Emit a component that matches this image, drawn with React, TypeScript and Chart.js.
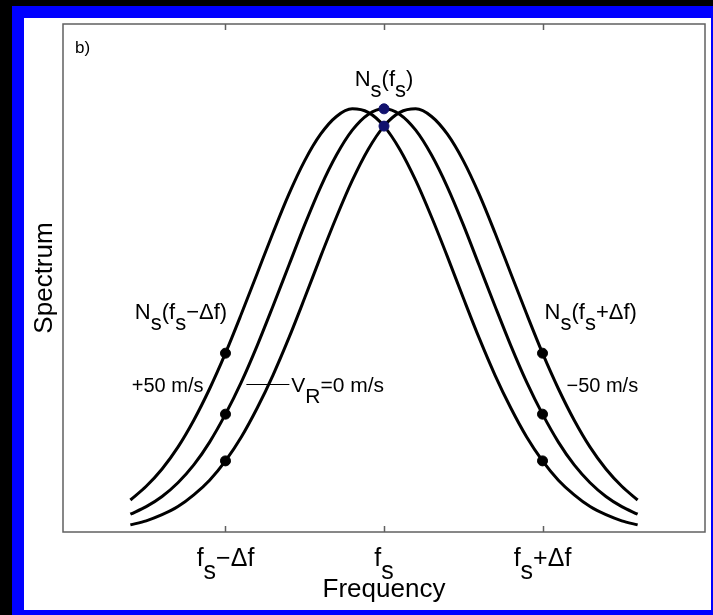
import React, { useEffect, useRef } from "react";
import { Chart, registerables } from "chart.js";

Chart.register(...registerables);

// Frequency axis: f_s = 0, one unit = Δf
const freqGrid = [
  -1.6, -1.5, -1.4, -1.3, -1.2, -1.1, -1.0, -0.9, -0.8, -0.7, -0.6, -0.5, -0.4, -0.3, -0.2, -0.1,
  0, 0.1, 0.2, 0.3, 0.4, 0.5, 0.6, 0.7, 0.8, 0.9, 1.0, 1.1, 1.2, 1.3, 1.4, 1.5, 1.6,
];

// +50 m/s spectrum (shifted towards lower frequency)
const spectrumPlus50 = [
  0.063, 0.09, 0.124, 0.167, 0.22, 0.282, 0.352, 0.429, 0.509, 0.589, 0.665, 0.731, 0.783, 0.818, 0.833, 0.826,
  0.799, 0.753, 0.692, 0.62, 0.542, 0.461, 0.382, 0.309, 0.244, 0.187, 0.14, 0.102, 0.073, 0.05, 0.034, 0.022, 0.014,
];

// V_R = 0 m/s spectrum
const spectrumZero = [
  0.035, 0.05, 0.07, 0.097, 0.132, 0.177, 0.232, 0.295, 0.367, 0.445, 0.525, 0.605, 0.679, 0.742, 0.791, 0.822,
  0.833, 0.822, 0.791, 0.742, 0.679, 0.605, 0.525, 0.445, 0.367, 0.295, 0.232, 0.177, 0.132, 0.097, 0.07, 0.05, 0.035,
];

// -50 m/s spectrum (shifted towards higher frequency)
const spectrumMinus50 = [
  0.014, 0.022, 0.034, 0.05, 0.073, 0.102, 0.14, 0.187, 0.244, 0.309, 0.382, 0.461, 0.542, 0.62, 0.692, 0.753,
  0.799, 0.826, 0.833, 0.818, 0.783, 0.731, 0.665, 0.589, 0.509, 0.429, 0.352, 0.282, 0.22, 0.167, 0.124, 0.09, 0.063,
];

// Black sample markers at f_s ± Δf
const markerFreqs = [-1, -1, -1, 1, 1, 1];
const markerValues = [0.352, 0.232, 0.14, 0.352, 0.232, 0.14];

// Navy markers at f_s
const peakFreqs = [0, 0];
const peakValues = [0.833, 0.799];

const tickValues = [-1, 0, 1];
const tickLabels = ["f_s−Δf", "f_s", "f_s+Δf"];

const FONT = '"Liberation Sans", Arial, Helvetica, sans-serif';

function drawRich(
  ctx: CanvasRenderingContext2D,
  text: string,
  x: number,
  y: number,
  size: number,
  align: "left" | "center",
  subDy: number
) {
  const segs: { t: string; sub: boolean }[] = [];
  let buf = "";
  for (let i = 0; i < text.length; i++) {
    if (text[i] === "_" && i + 1 < text.length) {
      if (buf) segs.push({ t: buf, sub: false });
      buf = "";
      segs.push({ t: text[i + 1], sub: true });
      i++;
    } else buf += text[i];
  }
  if (buf) segs.push({ t: buf, sub: false });
  ctx.font = `${size}px ${FONT}`;
  const w = segs.reduce((a, s) => a + ctx.measureText(s.t).width, 0);
  let cx = align === "center" ? x - w / 2 : x;
  ctx.textAlign = "left";
  ctx.textBaseline = "alphabetic";
  for (const s of segs) {
    ctx.fillText(s.t, cx, y + (s.sub ? subDy : 0));
    cx += ctx.measureText(s.t).width;
  }
}

const annotations = [
  { text: "N_s(f_s)", x: 0, y: 0.878, size: 22, align: "center" as const },
  { text: "N_s(f_s−Δf)", x: -1.572, y: 0.42, size: 22, align: "left" as const },
  { text: "N_s(f_s+Δf)", x: 1.013, y: 0.42, size: 22, align: "left" as const },
  { text: "+50 m/s", x: -1.591, y: 0.275, size: 20, align: "left" as const },
  { text: "V_R=0 m/s", x: -0.585, y: 0.275, size: 21, align: "left" as const },
  { text: "−50 m/s", x: 1.151, y: 0.275, size: 20, align: "left" as const },
];
const leaderLine = { x1: -0.868, x2: -0.597, y: 0.291 };

const textPlugin = {
  id: "textPlugin",
  afterDraw(chart: any) {
    const ctx: CanvasRenderingContext2D = chart.ctx;
    const { left, right, top, bottom } = chart.chartArea;
    const xs = chart.scales.x;
    const ys = chart.scales.y;
    ctx.save();
    // axes box
    ctx.strokeStyle = "#606060";
    ctx.lineWidth = 1.5;
    ctx.strokeRect(left, top, right - left, bottom - top);
    // ticks top and bottom
    ctx.beginPath();
    for (const v of tickValues) {
      const px = Math.round(xs.getPixelForValue(v)) + 0.5;
      ctx.moveTo(px, top);
      ctx.lineTo(px, top + 6);
      ctx.moveTo(px, bottom);
      ctx.lineTo(px, bottom - 6);
    }
    ctx.stroke();

    ctx.fillStyle = "#000";
    // tick labels
    tickValues.forEach((v, i) => {
      drawRich(ctx, tickLabels[i], xs.getPixelForValue(v), bottom + 34, 25, "center", 13);
    });
    // axis titles
    ctx.font = `26px ${FONT}`;
    ctx.textAlign = "center";
    ctx.textBaseline = "alphabetic";
    ctx.fillText("Frequency", xs.getPixelForValue(0), bottom + 65);
    ctx.save();
    ctx.translate(left - 11, (top + bottom) / 2);
    ctx.rotate(-Math.PI / 2);
    ctx.fillText("Spectrum", 0, 0);
    ctx.restore();

    // panel letter
    ctx.font = `17px ${FONT}`;
    ctx.textAlign = "left";
    ctx.fillText("b)", left + 12, top + 29);

    // annotations
    for (const a of annotations) {
      drawRich(ctx, a.text, xs.getPixelForValue(a.x), ys.getPixelForValue(a.y), a.size, a.align, 11);
    }
    // leader line
    ctx.strokeStyle = "#000";
    ctx.lineWidth = 1;
    ctx.beginPath();
    const ly = Math.round(ys.getPixelForValue(leaderLine.y)) + 0.5;
    ctx.moveTo(xs.getPixelForValue(leaderLine.x1), ly);
    ctx.lineTo(xs.getPixelForValue(leaderLine.x2), ly);
    ctx.stroke();
    ctx.restore();
  },
};

export default function App() {
  const ref = useRef<HTMLCanvasElement>(null);
  useEffect(() => {
    document.body.style.margin = "0";
    const toPts = (ys: number[]) => freqGrid.map((x, i) => ({ x, y: ys[i] }));
    const lineDs = (label: string, ys: number[]) => ({
      type: "line" as const,
      label,
      data: toPts(ys),
      borderColor: "#000",
      borderWidth: 3,
      pointRadius: 0,
      cubicInterpolationMode: "monotone" as const,
      fill: false,
    });
    const chart = new Chart(ref.current!, {
      type: "line",
      data: {
        datasets: [
          {
            type: "scatter" as const,
            label: "peak",
            data: peakFreqs.map((x, i) => ({ x, y: peakValues[i] })),
            pointRadius: 5,
            pointBackgroundColor: "#12126e",
            pointBorderColor: "#12126e",
            order: 0,
          } as any,
          {
            type: "scatter" as const,
            label: "samples",
            data: markerFreqs.map((x, i) => ({ x, y: markerValues[i] })),
            pointRadius: 5,
            pointBackgroundColor: "#000",
            pointBorderColor: "#000",
            order: 0,
          } as any,
          { ...lineDs("+50 m/s", spectrumPlus50), order: 1 },
          { ...lineDs("0 m/s", spectrumZero), order: 1 },
          { ...lineDs("-50 m/s", spectrumMinus50), order: 1 },
        ],
      },
      options: {
        animation: false,
        responsive: false,
        devicePixelRatio: 1,
        layout: { padding: { left: 39, top: 5, right: 4, bottom: 78 } },
        scales: {
          x: { type: "linear", min: -2.025, max: 2.025, display: false },
          y: { type: "linear", min: 0, max: 1, display: false },
        },
        plugins: { legend: { display: false }, tooltip: { enabled: false } },
      },
      plugins: [textPlugin],
    });
    return () => chart.destroy();
  }, []);
  return (
    <div style={{ position: "absolute", left: 0, top: 0, width: 713, height: 615, background: "#000" }}>
      <div style={{ position: "absolute", left: 12, top: 6, width: 701, height: 609, background: "#0000ff" }} />
      <div style={{ position: "absolute", left: 24, top: 18, width: 687, height: 592, background: "#fff" }}>
        <canvas ref={ref} width={687} height={592} style={{ display: "block" }} />
      </div>
    </div>
  );
}
